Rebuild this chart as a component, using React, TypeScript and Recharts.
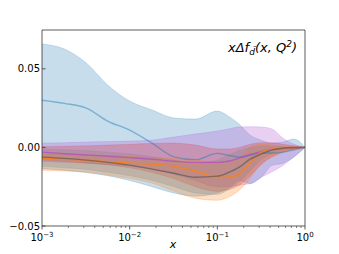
import React from 'react';
import { ComposedChart, Area, Line, XAxis, YAxis, ReferenceLine, Customized } from 'recharts';

// x positions (momentum fraction)
const xs = [0.001, 0.0018, 0.0032, 0.0056, 0.01, 0.018, 0.032, 0.056, 0.1, 0.133, 0.178, 0.237, 0.316, 0.42, 0.56, 0.75, 1];

// blue set
const blueLow = [-0.0135, -0.0145, -0.016, -0.018, -0.021, -0.025, -0.029, -0.031, -0.029, -0.026, -0.021, -0.023, -0.019, -0.0115, -0.01, -0.006, 0];
const blueHigh = [0.0658, 0.0626, 0.0537, 0.0397, 0.0295, 0.0238, 0.0187, 0.018, 0.0231, 0.0199, 0.0148, 0.0078, 0.0046, 0.0027, 0.0034, 0.0053, 0];
const blueMid = [0.03, 0.028, 0.025, 0.0168, 0.011, 0.0027, -0.006, -0.0078, -0.0038, -0.005, -0.0062, -0.005, -0.0036, -0.0036, -0.003, -0.0015, 0];

// purple set
const purpleLow = [-0.009, -0.0095, -0.01, -0.011, -0.012, -0.014, -0.017, -0.021, -0.025, -0.025, -0.024, -0.023, -0.019, -0.0155, -0.0115, -0.006, 0];
const purpleHigh = [0.0027, 0.003, 0.0034, 0.0037, 0.004, 0.0046, 0.0066, 0.0085, 0.0104, 0.0117, 0.013, 0.0132, 0.013, 0.0117, 0.0059, 0.002, 0];
const purpleMid = [-0.003, -0.004, -0.0048, -0.0056, -0.0065, -0.0075, -0.0088, -0.0095, -0.0095, -0.0088, -0.0068, -0.0045, -0.0025, -0.0012, -0.0006, -0.0002, 0];

// red set
const redLow = [-0.008, -0.009, -0.01, -0.011, -0.013, -0.016, -0.02, -0.025, -0.028, -0.027, -0.024, -0.018, -0.011, -0.006, -0.003, -0.001, 0];
const redHigh = [0.0005, 0.0008, 0.001, 0.0015, 0.002, 0.0025, 0.0028, 0.0015, -0.001, -0.001, 0.0, 0.002, 0.003, 0.003, 0.002, 0.001, 0];

// orange set
const orangeLow = [-0.0145, -0.015, -0.0157, -0.0175, -0.0196, -0.0227, -0.0278, -0.0323, -0.0336, -0.0317, -0.0272, -0.0196, -0.01, -0.0062, -0.003, -0.001, 0];
const orangeHigh = [-0.004, -0.0043, -0.0047, -0.0052, -0.0058, -0.0064, -0.007, -0.008, -0.0095, -0.009, -0.0065, 0.0, 0.002, 0.0015, 0.001, 0.0004, 0];
const orangeMid = [-0.0068, -0.0075, -0.0081, -0.009, -0.01, -0.0106, -0.012, -0.015, -0.019, -0.019, -0.017, -0.0094, -0.003, -0.0011, -0.0005, -0.0002, 0];

// gray set
const grayLow = [-0.012, -0.013, -0.014, -0.016, -0.018, -0.021, -0.025, -0.029, -0.03, -0.027, -0.022, -0.015, -0.008, -0.004, -0.002, -0.001, 0];
const grayHigh = [-0.001, -0.0015, -0.002, -0.003, -0.004, -0.006, -0.008, -0.01, -0.008, -0.005, -0.002, 0.0, 0.001, 0.0008, 0.0004, 0.0002, 0];
const grayMid = [-0.0062, -0.007, -0.0081, -0.0095, -0.0113, -0.0138, -0.0164, -0.019, -0.0183, -0.016, -0.0125, -0.0075, -0.0043, -0.0017, -0.0005, -0.0001, 0];

const majorTicks = [0.001, 0.01, 0.1, 1];
const majorExp = ['−3', '−2', '−1', '0'];
const minorTicks = [
  0.002, 0.003, 0.004, 0.005, 0.006, 0.007, 0.008, 0.009,
  0.02, 0.03, 0.04, 0.05, 0.06, 0.07, 0.08, 0.09,
  0.2, 0.3, 0.4, 0.5, 0.6, 0.7, 0.8, 0.9,
];
const yTicks = [-0.05, 0, 0.05];
const yTickLabels = ['−0.05', '0.00', '0.05'];
const yMax = 0.0747;

const data = xs.map((x, i) => ({
  x,
  blue: [blueLow[i], blueHigh[i]],
  blueMid: blueMid[i],
  purple: [purpleLow[i], purpleHigh[i]],
  purpleMid: purpleMid[i],
  red: [redLow[i], redHigh[i]],
  orange: [orangeLow[i], orangeHigh[i]],
  orangeMid: orangeMid[i],
  gray: [grayLow[i], grayHigh[i]],
  grayMid: grayMid[i],
}));

const FONT = 'DejaVu Sans';

const XTick = (props: any) => {
  const { x, y, payload } = props;
  const v = payload.value;
  const mi = majorTicks.findIndex((m) => Math.abs(m - v) / m < 1e-6);
  const isMajor = mi >= 0;
  return (
    <g>
      <line x1={x} x2={x} y1={y} y2={y + (isMajor ? 3.5 : 2)} stroke="#333" strokeWidth={isMajor ? 0.8 : 0.6} />
      {isMajor && (
        <text x={x} y={y + 15} textAnchor="middle" fontFamily={FONT} fontSize={10} fill="#000">
          <tspan>10</tspan>
          <tspan dy={-4.5} fontSize={7}>{majorExp[mi]}</tspan>
        </text>
      )}
    </g>
  );
};

const YTick = (props: any) => {
  const { x, y, payload } = props;
  const idx = yTicks.findIndex((t) => Math.abs(t - payload.value) < 1e-9);
  return (
    <g>
      <line x1={x} x2={x + 3.5} y1={y} y2={y} stroke="#333" strokeWidth={0.8} />
      <text x={x - 2} y={y + 3.5} textAnchor="end" fontFamily={FONT} fontSize={10} fill="#000">
        {yTickLabels[idx]}
      </text>
    </g>
  );
};

const Title = () => (
  <g>
    <text x={297} y={52} textAnchor="end" fontFamily={FONT} fontSize={13} fontStyle="italic" fill="#000">
      <tspan>xΔf</tspan>
      <tspan dy={3} fontSize={9}>d̄</tspan>
      <tspan dy={-3}>(x, Q</tspan>
      <tspan dy={-5} fontSize={9}>2</tspan>
      <tspan dy={5}>)</tspan>
    </text>
    <text x={173} y={248} textAnchor="middle" fontFamily={FONT} fontSize={11} fontStyle="italic" fill="#000">x</text>
  </g>
);

export default function App() {
  return (
    <div style={{ position: 'absolute', left: 0, top: 0, width: 339, height: 254, background: '#fff' }}>
      <ComposedChart width={339} height={254} data={data} margin={{ top: 30, right: 34, bottom: 0, left: 0 }}>
        <XAxis
          dataKey="x"
          type="number"
          scale="log"
          domain={[0.001, 1]}
          allowDataOverflow
          ticks={[...majorTicks, ...minorTicks]}
          interval={0}
          tick={<XTick />}
          tickLine={false}
          tickSize={0}
          tickMargin={0}
          height={28}
          axisLine={{ stroke: '#333', strokeWidth: 0.8 }}
        />
        <YAxis
          type="number"
          domain={[-0.05, yMax]}
          allowDataOverflow
          ticks={yTicks}
          interval={0}
          tick={<YTick />}
          tickLine={false}
          tickSize={0}
          tickMargin={0}
          width={42}
          axisLine={{ stroke: '#333', strokeWidth: 0.8 }}
        />
        <Area dataKey="blue" type="monotone" fill="#1f77b4" fillOpacity={0.25} stroke="#1f77b4" strokeOpacity={0.25} strokeWidth={0.8} isAnimationActive={false} />
        <Area dataKey="purple" type="monotone" fill="#b565d8" fillOpacity={0.3} stroke="#b565d8" strokeOpacity={0.3} strokeWidth={0.8} isAnimationActive={false} />
        <Area dataKey="red" type="monotone" fill="#d62728" fillOpacity={0.25} stroke="#d62728" strokeOpacity={0.2} strokeWidth={0.8} isAnimationActive={false} />
        <Area dataKey="orange" type="monotone" fill="#ff7f0e" fillOpacity={0.25} stroke="#ff7f0e" strokeOpacity={0.3} strokeWidth={0.8} isAnimationActive={false} />
        <Area dataKey="gray" type="monotone" fill="#7f7f7f" fillOpacity={0.25} stroke="#7f7f7f" strokeOpacity={0.2} strokeWidth={0.8} isAnimationActive={false} />
        <Line dataKey="blueMid" type="monotone" stroke="#1f77b4" strokeOpacity={0.45} strokeWidth={1.4} dot={false} isAnimationActive={false} />
        <Line dataKey="purpleMid" type="monotone" stroke="#b048c8" strokeOpacity={0.7} strokeWidth={1.4} dot={false} isAnimationActive={false} />
        <Line dataKey="orangeMid" type="monotone" stroke="#ff7f0e" strokeOpacity={0.8} strokeWidth={1.4} dot={false} isAnimationActive={false} />
        <Line dataKey="grayMid" type="monotone" stroke="#555555" strokeOpacity={0.65} strokeWidth={1.4} dot={false} isAnimationActive={false} />
        <ReferenceLine y={yMax} stroke="#333" strokeWidth={0.8} ifOverflow="extendDomain" />
        <ReferenceLine x={1} stroke="#333" strokeWidth={0.8} ifOverflow="extendDomain" />
        <Customized component={Title} />
      </ComposedChart>
    </div>
  );
}
